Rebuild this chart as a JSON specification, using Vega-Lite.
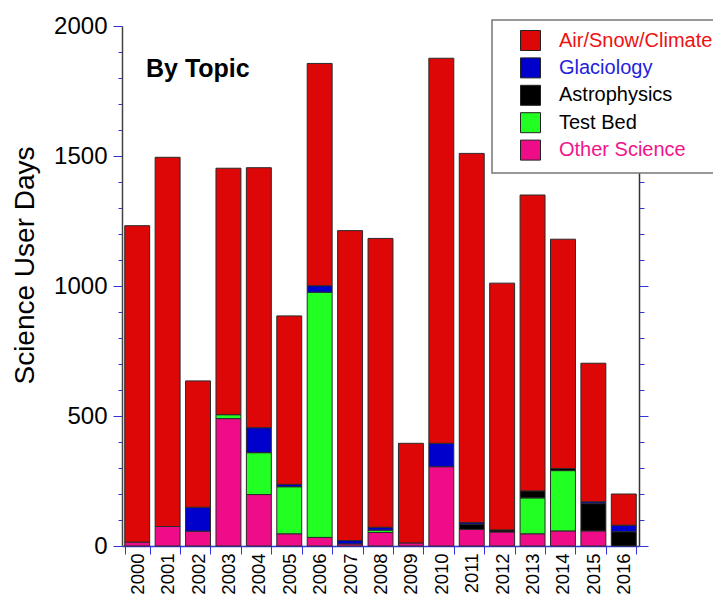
{
  "$schema": "https://vega.github.io/schema/vega-lite/v6.json",
  "autosize": "none",
  "padding": {"left": 122, "top": 26, "right": 74, "bottom": 53},
  "width": 517,
  "height": 520,
  "background": "white",
  "title": {
    "text": "By Topic",
    "anchor": "start",
    "frame": "group",
    "orient": "top",
    "offset": 0,
    "dx": 24,
    "dy": 88,
    "baseline": "alphabetic",
    "font": "Liberation Sans",
    "fontSize": 25,
    "fontWeight": "bold",
    "color": "#000000"
  },
  "data": {
    "values": [
      {"year": "2000", "topic": "Other Science", "days": 15},
      {"year": "2000", "topic": "Air/Snow/Climate", "days": 1217},
      {"year": "2001", "topic": "Other Science", "days": 75},
      {"year": "2001", "topic": "Air/Snow/Climate", "days": 1420},
      {"year": "2002", "topic": "Other Science", "days": 57},
      {"year": "2002", "topic": "Glaciology", "days": 92},
      {"year": "2002", "topic": "Air/Snow/Climate", "days": 486},
      {"year": "2003", "topic": "Other Science", "days": 490},
      {"year": "2003", "topic": "Test Bed", "days": 15},
      {"year": "2003", "topic": "Air/Snow/Climate", "days": 948},
      {"year": "2004", "topic": "Other Science", "days": 198},
      {"year": "2004", "topic": "Test Bed", "days": 161},
      {"year": "2004", "topic": "Glaciology", "days": 96},
      {"year": "2004", "topic": "Air/Snow/Climate", "days": 1000},
      {"year": "2005", "topic": "Other Science", "days": 47},
      {"year": "2005", "topic": "Test Bed", "days": 181},
      {"year": "2005", "topic": "Glaciology", "days": 9},
      {"year": "2005", "topic": "Air/Snow/Climate", "days": 648},
      {"year": "2006", "topic": "Other Science", "days": 33},
      {"year": "2006", "topic": "Test Bed", "days": 943},
      {"year": "2006", "topic": "Glaciology", "days": 25},
      {"year": "2006", "topic": "Air/Snow/Climate", "days": 855},
      {"year": "2007", "topic": "Other Science", "days": 8},
      {"year": "2007", "topic": "Glaciology", "days": 13},
      {"year": "2007", "topic": "Air/Snow/Climate", "days": 1192},
      {"year": "2008", "topic": "Other Science", "days": 52},
      {"year": "2008", "topic": "Test Bed", "days": 9},
      {"year": "2008", "topic": "Glaciology", "days": 11},
      {"year": "2008", "topic": "Air/Snow/Climate", "days": 1111},
      {"year": "2009", "topic": "Other Science", "days": 12},
      {"year": "2009", "topic": "Air/Snow/Climate", "days": 383},
      {"year": "2010", "topic": "Other Science", "days": 305},
      {"year": "2010", "topic": "Glaciology", "days": 90},
      {"year": "2010", "topic": "Air/Snow/Climate", "days": 1481},
      {"year": "2011", "topic": "Other Science", "days": 64},
      {"year": "2011", "topic": "Astrophysics", "days": 20},
      {"year": "2011", "topic": "Glaciology", "days": 6},
      {"year": "2011", "topic": "Air/Snow/Climate", "days": 1420},
      {"year": "2012", "topic": "Other Science", "days": 54},
      {"year": "2012", "topic": "Astrophysics", "days": 8},
      {"year": "2012", "topic": "Air/Snow/Climate", "days": 949},
      {"year": "2013", "topic": "Other Science", "days": 47},
      {"year": "2013", "topic": "Test Bed", "days": 138},
      {"year": "2013", "topic": "Astrophysics", "days": 27},
      {"year": "2013", "topic": "Air/Snow/Climate", "days": 1138},
      {"year": "2014", "topic": "Other Science", "days": 58},
      {"year": "2014", "topic": "Test Bed", "days": 232},
      {"year": "2014", "topic": "Astrophysics", "days": 8},
      {"year": "2014", "topic": "Air/Snow/Climate", "days": 882},
      {"year": "2015", "topic": "Other Science", "days": 58},
      {"year": "2015", "topic": "Astrophysics", "days": 105},
      {"year": "2015", "topic": "Glaciology", "days": 7},
      {"year": "2015", "topic": "Air/Snow/Climate", "days": 533},
      {"year": "2016", "topic": "Astrophysics", "days": 55},
      {"year": "2016", "topic": "Glaciology", "days": 25},
      {"year": "2016", "topic": "Air/Snow/Climate", "days": 120}
    ]
  },
  "transform": [
    {"calculate": "indexof(['Other Science','Test Bed','Astrophysics','Glaciology','Air/Snow/Climate'], datum.topic)", "as": "stack_rank"}
  ],
  "encoding": {
    "x": {
      "field": "year",
      "type": "ordinal",
      "scale": {"paddingInner": 0.18, "paddingOuter": 0.09},
      "axis": {
        "title": null,
        "tickBand": "extent",
        "labelAngle": -90,
        "labelAlign": "right",
        "labelBaseline": "middle",
        "labelFont": "Liberation Sans",
        "labelFontSize": 18.5,
        "labelColor": "#000000",
        "labelPadding": -1,
        "tickSize": 8,
        "tickColor": "#3333dd",
        "tickWidth": 1,
        "domainColor": "#3333dd",
        "domainWidth": 1.5
      }
    }
  },
  "layer": [
    {
      "mark": {"type": "bar", "stroke": "#2a2a2a", "strokeWidth": 1},
      "encoding": {
        "y": {
          "field": "days",
          "type": "quantitative",
          "stack": "zero",
          "scale": {"domain": [0, 2000], "nice": false},
          "axis": {
            "orient": "left",
            "title": "Science User Days",
            "titleFont": "Liberation Sans",
            "titleFontSize": 28,
            "titleFontWeight": "normal",
            "titleColor": "#000000",
            "titleAngle": -90,
            "titleAlign": "center",
            "titleBaseline": "alphabetic",
            "titleX": -89,
            "titleY": 239,
            "values": [0,100,200,300,400,500,600,700,800,900,1000,1100,1200,1300,1400,1500,1600,1700,1800,1900,2000],
            "labelExpr": "datum.value % 500 === 0 ? datum.label : ''",
            "format": "d",
            "labelFont": "Liberation Sans",
            "labelFontSize": 24,
            "labelColor": "#000000",
            "labelPadding": 6,
            "tickSize": {"condition": {"test": "datum.value % 500 === 0", "value": 9}, "value": 4},
            "tickColor": "#3333dd",
            "tickWidth": 1,
            "domainColor": "#444444",
            "domainWidth": 1.5,
            "grid": false
          }
        },
        "color": {
          "field": "topic",
          "type": "nominal",
          "scale": {
            "domain": ["Air/Snow/Climate", "Glaciology", "Astrophysics", "Test Bed", "Other Science"],
            "range": ["#dd0707", "#0000cc", "#000000", "#22ff22", "#ee0c88"]
          },
          "legend": {
            "title": null,
            "orient": "none",
            "legendX": 370,
            "legendY": -6,
            "padding": 10,
            "fillColor": "#ffffff",
            "strokeColor": "#777777",
            "symbolType": "square",
            "symbolSize": 400,
            "symbolStrokeColor": "#222222",
            "symbolStrokeWidth": 1,
            "symbolOpacity": 1,
            "symbolOffset": 18,
            "labelOffset": 18,
            "labelFont": "Liberation Sans",
            "labelFontSize": 20,
            "labelLimit": 400,
            "rowPadding": 2.4,
            "encode": {
              "labels": {
                "update": {
                  "fill": {"signal": "datum.value === 'Air/Snow/Climate' ? '#ee1111' : datum.value === 'Glaciology' ? '#2222dd' : datum.value === 'Other Science' ? '#f0148c' : '#000000'"}
                }
              },
              "legend": {
                "update": {"strokeWidth": {"value": 1.5}}
              }
            }
          }
        },
        "order": {"field": "stack_rank", "type": "quantitative", "sort": "ascending"}
      }
    },
    {
      "mark": {"type": "tick", "opacity": 0},
      "encoding": {
        "y": {
          "field": "days",
          "type": "quantitative",
          "axis": {
            "orient": "right",
            "title": null,
            "values": [0,100,200,300,400,500,600,700,800,900,1000,1100,1200,1300,1400,1500,1600,1700,1800,1900,2000],
            "labels": false,
            "tickSize": {"condition": {"test": "datum.value % 500 === 0", "value": 9}, "value": 5},
            "tickColor": "#3333dd",
            "tickWidth": 1,
            "domainColor": "#333333",
            "domainWidth": 1.5,
            "grid": false
          }
        }
      }
    }
  ],
  "resolve": {"axis": {"y": "independent"}},
  "config": {
    "view": {"stroke": null},
    "font": "Liberation Sans"
  }
}
